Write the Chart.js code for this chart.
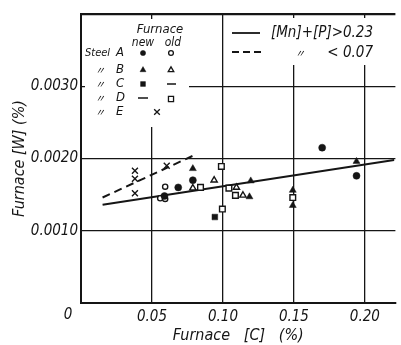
<!DOCTYPE html>
<html>
<head>
<meta charset="utf-8">
<script src="https://cdn.jsdelivr.net/npm/chart.js@4"></script>
<style>
  html, body { margin: 0; padding: 0; background: #fff; }
  canvas { display: block; }
</style>
</head>
<body>
<canvas id="wChart" width="401" height="345"></canvas>
<script>
// ---- data ----
const xTickValues = [0, 0.05, 0.10, 0.15, 0.20];
const xTickLabels = ['', '0.05', '0.10', '0.15', '0.20'];
const yTickValues = [0, 0.001, 0.002, 0.003, 0.004];
const yTickLabels = ['', '0.0010', '0.0020', '0.0030', ''];

// steel A (circle)
const aNewX = [0.0588, 0.0685, 0.0788, 0.1699, 0.1941];
const aNewY = [0.00148, 0.00160, 0.00170, 0.00215, 0.00176];
const aOldX = [0.0593, 0.0558, 0.0593];
const aOldY = [0.00161, 0.00145, 0.00144];
// steel B (triangle)
const bNewX = [0.0788, 0.1196, 0.1187, 0.1492, 0.1492, 0.1941];
const bNewY = [0.00186, 0.00169, 0.00147, 0.00156, 0.00135, 0.00196];
const bOldX = [0.0788, 0.0938, 0.1095, 0.1141];
const bOldY = [0.00159, 0.00170, 0.00160, 0.00149];
// steel C (filled square, new only)
const cNewX = [0.0943];
const cNewY = [0.00119];
// steel D (open square, old only)
const dOldX = [0.0842, 0.0989, 0.0996, 0.1042, 0.1088, 0.1492];
const dOldY = [0.00160, 0.00189, 0.00130, 0.00159, 0.00149, 0.00146];
// steel E (cross)
const eX = [0.0380, 0.0380, 0.0380, 0.0604];
const eY = [0.00183, 0.00172, 0.00152, 0.00190];

// trend lines
const highLineX = [0.0152, 0.2206];   // [Mn]+[P] > 0.23
const highLineY = [0.00136, 0.00198];
const lowLineX = [0.0152, 0.0802];    // [Mn]+[P] < 0.07
const lowLineY = [0.00146, 0.00205];

const INK = '#151515';
const FONT = "'DejaVu Sans Condensed', 'Liberation Sans', sans-serif";
const DITTO_FONT = "'Noto Sans CJK JP', 'DejaVu Sans', sans-serif";

function pts(xs, ys) {
    return xs.map((x, i) => ({ x: x, y: ys[i] }));
}

function markers(data, style, radius, filled) {
    return {
        data: data,
        pointStyle: style,
        pointRadius: radius,
        pointBackgroundColor: filled ? INK : '#fff',
        pointBorderColor: INK,
        pointBorderWidth: filled ? 0.5 : 1.4,
        showLine: false
    };
}

// hand drawn legend blocks of the original figure
const legendPlugin = {
    id: 'figureLegend',
    beforeDatasetsDraw(chart) {
        const ctx = chart.ctx;
        ctx.save();
        // paper behind the legend blocks hides the grid
        ctx.fillStyle = '#fff';
        ctx.fillRect(85, 19, 104, 108);
        ctx.fillRect(229, 18, 137, 47);

        ctx.fillStyle = INK;
        ctx.strokeStyle = INK;
        ctx.textBaseline = 'middle';

        ctx.textAlign = 'center';
        ctx.font = 'italic 13px ' + FONT;
        ctx.fillText('Furnace', 160, 30);
        ctx.font = 'italic 12px ' + FONT;
        ctx.fillText('new', 143, 43);
        ctx.fillText('old', 173, 43);

        const rows = [53, 70, 84, 98, 112];
        const letters = ['A', 'B', 'C', 'D', 'E'];
        ctx.textAlign = 'left';
        ctx.font = 'italic 11px ' + FONT;
        ctx.fillText('Steel', 85, rows[0]);
        rows.forEach((y, i) => {
            ctx.font = 'italic 13px ' + FONT;
            ctx.fillText(letters[i], 116, y);
            if (i > 0) {
                ctx.font = 'italic 10px ' + DITTO_FONT;
                ctx.fillText('\u3003', 95, y);
            }
        });

        const dp = Chart.helpers.drawPoint;
        function mark(style, r, x, y, filled) {
            ctx.fillStyle = filled ? INK : '#fff';
            ctx.lineWidth = filled ? 0.5 : 1.3;
            dp(ctx, { pointStyle: style, radius: r, rotation: 0, borderWidth: ctx.lineWidth }, x, y);
        }
        mark('circle', 2.6, 143, rows[0], true);
        mark('circle', 2.4, 171, rows[0], false);
        mark('triangle', 3.4, 143, rows[1], true);
        mark('triangle', 3.2, 171, rows[1], false);
        mark('rect', 3.4, 143, rows[2], true);
        mark('rect', 3.6, 171, rows[3] + 1, false);
        mark('crossRot', 4, 157, rows[4], false);
        ctx.lineWidth = 1.6;
        ctx.beginPath();
        ctx.moveTo(167, rows[2]); ctx.lineTo(176, rows[2]);
        ctx.moveTo(138, rows[3]); ctx.lineTo(148, rows[3]);
        ctx.stroke();

        // line key
        ctx.lineWidth = 1.8;
        ctx.beginPath();
        ctx.moveTo(232, 33); ctx.lineTo(260, 33);
        ctx.stroke();
        ctx.setLineDash([7, 4]);
        ctx.beginPath();
        ctx.moveTo(232, 52); ctx.lineTo(262, 52);
        ctx.stroke();
        ctx.setLineDash([]);

        ctx.fillStyle = INK;
        ctx.textAlign = 'right';
        ctx.font = 'italic 15px ' + FONT;
        ctx.fillText('[Mn]+[P]>0.23', 373, 33);
        ctx.fillText('< 0.07', 373, 53);
        ctx.textAlign = 'center';
        ctx.font = 'italic 10px ' + DITTO_FONT;
        ctx.fillText('\u3003', 300, 53);
        ctx.restore();
    },
    afterDraw(chart) {
        // origin label sits apart from the axes
        const ctx = chart.ctx;
        ctx.save();
        ctx.fillStyle = INK;
        ctx.font = 'italic 15px ' + FONT;
        ctx.textAlign = 'center';
        ctx.textBaseline = 'middle';
        ctx.fillText('0', 68, 315);
        ctx.restore();
    }
};

const ctx = document.getElementById('wChart');

new Chart(ctx, {
    type: 'scatter',
    data: {
        datasets: [
            markers(pts(aNewX, aNewY), 'circle', 3.5, true),
            markers(pts(aOldX, aOldY), 'circle', 2.6, false),
            markers(pts(bNewX, bNewY), 'triangle', 4, true),
            markers(pts(bOldX, bOldY), 'triangle', 3.6, false),
            markers(pts(cNewX, cNewY), 'rect', 4, true),
            markers(pts(dOldX, dOldY), 'rect', 4, false),
            {
                data: pts(eX, eY),
                pointStyle: 'crossRot',
                pointRadius: 4.2,
                pointBorderColor: INK,
                pointBorderWidth: 1.4,
                showLine: false
            },
            {
                data: pts(highLineX, highLineY),
                showLine: true,
                borderColor: INK,
                borderWidth: 2,
                pointRadius: 0
            },
            {
                data: pts(lowLineX, lowLineY),
                showLine: true,
                borderColor: INK,
                borderWidth: 2,
                borderDash: [8, 5],
                pointRadius: 0
            }
        ]
    },
    options: {
        responsive: false,
        animation: false,
        devicePixelRatio: 1,
        layout: { padding: { top: 14, right: 0, bottom: 0, left: 0 } },
        plugins: {
            legend: { display: false },
            tooltip: { enabled: false }
        },
        scales: {
            x: {
                type: 'linear',
                min: 0,
                max: 0.2215,
                afterBuildTicks: s => { s.ticks = xTickValues.map(v => ({ value: v })); },
                afterFit: s => { s.height = 42; },
                grid: { color: INK, lineWidth: 1.3, drawTicks: false },
                border: { display: true, color: INK, width: 2 },
                ticks: {
                    padding: 5,
                    color: INK,
                    font: { family: FONT, size: 15, style: 'italic' },
                    callback: (v, i) => xTickLabels[i]
                },
                title: {
                    display: true,
                    text: 'Furnace   [C]   (%)',
                    color: INK,
                    font: { family: FONT, size: 16, style: 'italic' },
                    padding: { top: 0, bottom: 0 }
                }
            },
            y: {
                type: 'linear',
                min: 0,
                max: 0.004,
                afterBuildTicks: s => { s.ticks = yTickValues.map(v => ({ value: v })); },
                afterFit: s => { s.width = 81; },
                grid: {
                    color: INK,
                    drawTicks: false,
                    lineWidth: c => (c.tick && c.tick.value >= 0.004 ? 2.2 : 1.3)
                },
                border: { display: true, color: INK, width: 2 },
                ticks: {
                    padding: 3,
                    color: INK,
                    font: { family: FONT, size: 15, style: 'italic' },
                    callback: (v, i) => yTickLabels[i]
                },
                title: {
                    display: true,
                    text: 'Furnace [W] (%)',
                    color: INK,
                    font: { family: FONT, size: 16, style: 'italic' },
                    padding: { top: 10, bottom: 0 }
                }
            }
        }
    },
    plugins: [legendPlugin]
});
</script>
</body>
</html>
